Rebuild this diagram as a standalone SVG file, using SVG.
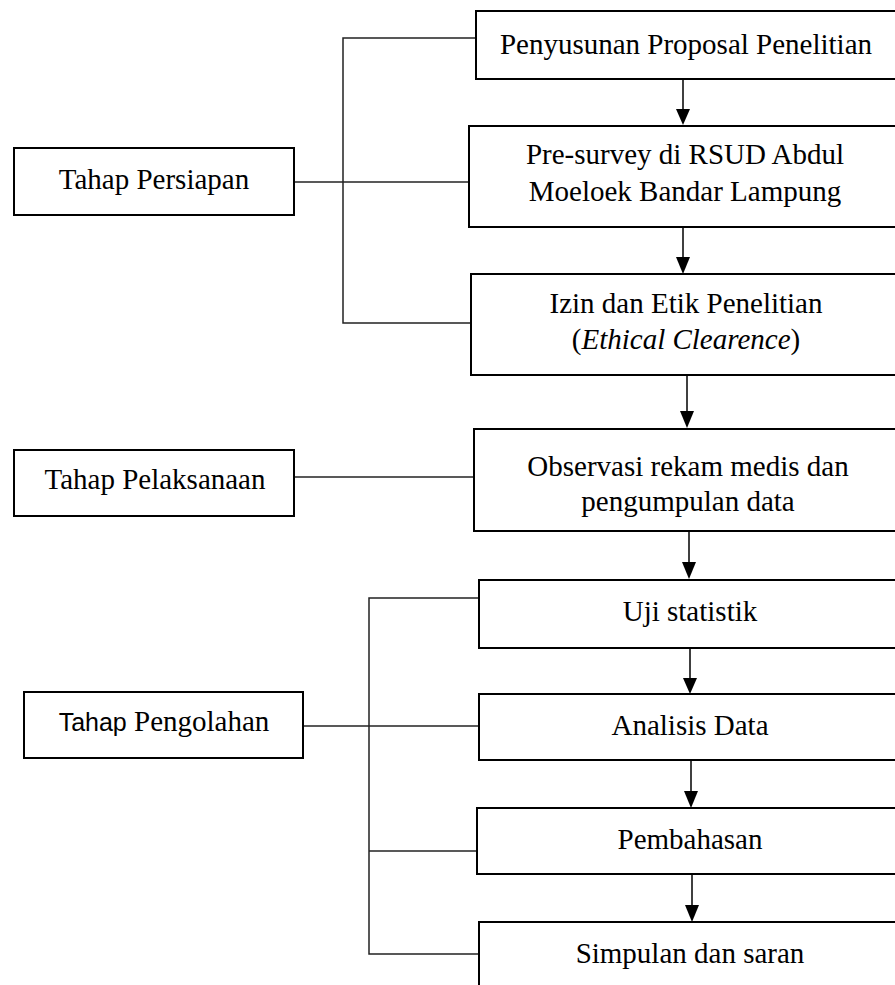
<svg xmlns="http://www.w3.org/2000/svg" width="895" height="985" viewBox="0 0 895 985">
<style>
.box{fill:#fff;stroke:#000;stroke-width:2}
.t{font-family:"Liberation Serif","Times New Roman",serif;font-size:29px;fill:#000;text-anchor:middle}
.s{font-family:"Liberation Sans",Arial,sans-serif;font-size:25px}
.ln{fill:none;stroke:#222;stroke-width:1.5}
.ar{fill:none;stroke:#000;stroke-width:1.5}
.head{fill:#000}
</style>
<rect width="895" height="985" fill="#fff"/>
<g id="connectors">
  <polyline class="ln" points="476,38 343,38 343,323 471,323"/>
  <line class="ln" x1="294" y1="182" x2="470" y2="182"/>
  <line class="ln" x1="294" y1="477" x2="475" y2="477"/>
  <polyline class="ln" points="479,598 369,598 369,954 479,954"/>
  <line class="ln" x1="303" y1="726" x2="479" y2="726"/>
  <line class="ln" x1="369" y1="851" x2="477" y2="851"/>
  <line class="ar" x1="683" y1="79" x2="683" y2="110"/>
  <polygon class="head" points="676,109 690,109 683,125"/>
  <line class="ar" x1="683" y1="227" x2="683" y2="258"/>
  <polygon class="head" points="676,257 690,257 683,274"/>
  <line class="ar" x1="687" y1="375" x2="687" y2="412"/>
  <polygon class="head" points="680,411 694,411 687,428"/>
  <line class="ar" x1="689" y1="531" x2="689" y2="563"/>
  <polygon class="head" points="682,562 696,562 689,579"/>
  <line class="ar" x1="690" y1="648" x2="690" y2="679"/>
  <polygon class="head" points="683,678 697,678 690,694"/>
  <line class="ar" x1="691" y1="760" x2="691" y2="792"/>
  <polygon class="head" points="684,791 698,791 691,808"/>
  <line class="ar" x1="692" y1="874" x2="692" y2="906"/>
  <polygon class="head" points="685,905 699,905 692,922"/>
</g>
<g id="n_persiapan">
  <rect class="box" x="14" y="148" width="280" height="67"/>
  <text class="t" x="154" y="189">Tahap Persiapan</text>
</g>
<g id="n_pelaksanaan">
  <rect class="box" x="14" y="450" width="280" height="66"/>
  <text class="t" x="155" y="489">Tahap Pelaksanaan</text>
</g>
<g id="n_pengolahan">
  <rect class="box" x="24" y="692" width="279" height="66"/>
  <text class="t" x="164" y="731"><tspan class="s">Tahap</tspan> Pengolahan</text>
</g>
<g id="n_proposal">
  <rect class="box" x="476" y="11" width="440" height="68"/>
  <text class="t" x="686" y="54">Penyusunan Proposal Penelitian</text>
</g>
<g id="n_presurvey">
  <rect class="box" x="469" y="126" width="440" height="101"/>
  <text class="t" x="685" y="164">Pre-survey di RSUD Abdul</text>
  <text class="t" x="685" y="201">Moeloek Bandar Lampung</text>
</g>
<g id="n_izin">
  <rect class="box" x="471" y="274" width="440" height="101"/>
  <text class="t" x="686" y="313">Izin dan Etik Penelitian</text>
  <text class="t" x="686" y="349">(<tspan font-style="italic">Ethical Clearence</tspan>)</text>
</g>
<g id="n_observasi">
  <rect class="box" x="474" y="429" width="440" height="102"/>
  <text class="t" x="688" y="476">Observasi rekam medis dan</text>
  <text class="t" x="688" y="511">pengumpulan data</text>
</g>
<g id="n_uji">
  <rect class="box" x="479" y="580" width="440" height="68"/>
  <text class="t" x="690" y="621">Uji statistik</text>
</g>
<g id="n_analisis">
  <rect class="box" x="479" y="694" width="440" height="66"/>
  <text class="t" x="690" y="735">Analisis Data</text>
</g>
<g id="n_pembahasan">
  <rect class="box" x="477" y="808" width="440" height="66"/>
  <text class="t" x="690" y="849">Pembahasan</text>
</g>
<g id="n_simpulan">
  <rect class="box" x="479" y="922" width="440" height="100"/>
  <text class="t" x="690" y="963">Simpulan dan saran</text>
</g>
</svg>
